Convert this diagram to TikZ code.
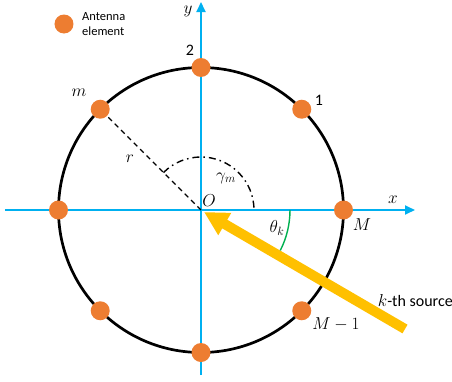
\documentclass[tikz,border=0pt]{standalone}
\usepackage{fontspec}
\newfontfamily\calibri{Carlito}
\usetikzlibrary{arrows.meta}
\definecolor{axisblue}{HTML}{00B0F0}
\definecolor{elemorange}{HTML}{ED7D31}
\definecolor{srcyellow}{HTML}{FFC000}
\definecolor{anglegreen}{HTML}{00B050}
\tikzset{
  elem/.style={circle, fill=elemorange, minimum size=19pt, inner sep=0pt},
  axisline/.style={axisblue, line width=1.8pt, -{Triangle[length=10pt,width=9pt]}},
  lbl/.style={inner sep=1pt, font=\fontsize{18}{21}\selectfont},
  numlbl/.style={inner sep=1pt, font=\calibri\fontsize{16}{19}\selectfont},
  smalltxt/.style={inner sep=0pt, align=left, font=\calibri\fontsize{12.5}{15}\selectfont}
}
\begin{document}
\begin{tikzpicture}[x=1pt,y=1pt]
    \useasboundingbox (-201,-171) rectangle (251,210);
    \coordinate (O) at (0,0);

    % Axes
    \coordinate (xstart) at (-196,0);
    \coordinate (xend) at (214,0);
    \coordinate (ystart) at (0,-165);
    \coordinate (yend) at (0,208);
    \draw[axisline] (xstart) -- (xend);
    \draw[axisline] (ystart) -- (yend);
    \node[lbl] (xlab) at (192,10) {$x$};
    \node[lbl] (ylab) at (-13,199) {$y$};
    \node[lbl] (olab) at (8,9) {$O$};

    % Array circle and elements
    \draw[line width=2.7pt] (O) circle (142.5);
    \foreach \a [count=\i] in {0,45,...,315}
        \coordinate (p\i) at (\a:142.5);
    \draw[line width=1.3pt, dash pattern=on 5pt off 4pt] (O) -- (p4);
    \foreach \i in {1,...,8}
        \node[elem] (e\i) at (p\i) {};

    % Element labels
    \node[numlbl] (lab1) at (118,110) {1};
    \node[numlbl] (lab2) at (-11,160) {2};
    \node[lbl] (labm) at (-122,117) {$m$};
    \node[lbl] (labM) at (161,-15) {$M$};
    \node[lbl] (labMm) at (135,-114) {$M-1$};
    \node[lbl] (labr) at (-71,51) {$r$};

    % Angle of element m
    \draw[line width=1.4pt, dash pattern=on 7pt off 4pt on 1.5pt off 4pt]
        (135:53) arc[start angle=135, end angle=0, radius=53];
    \node[lbl] (labgam) at (25,32) {$\gamma_m$};

    % Incoming source
    \coordinate (src) at (204,-119);
    \coordinate (tip) at (3,-2);
    \draw[srcyellow, line width=10pt, -{Triangle[length=24pt,width=24pt]}] (src) -- (tip);
    \draw[anglegreen, line width=1.4pt] (89,0) arc[start angle=0, end angle=-27, radius=89];
    \node[lbl] (labth) at (76,-18) {$\theta_k$};
    \node[numlbl, anchor=east, inner sep=0pt] (labsrc) at (252,-91) {$k$-th source};

    % Legend
    \node[elem] (legdot) at (-137,186) {};
    \node[smalltxt, anchor=west] (legtxt) at (-119,186) {Antenna\\element};
\end{tikzpicture}
\end{document}
